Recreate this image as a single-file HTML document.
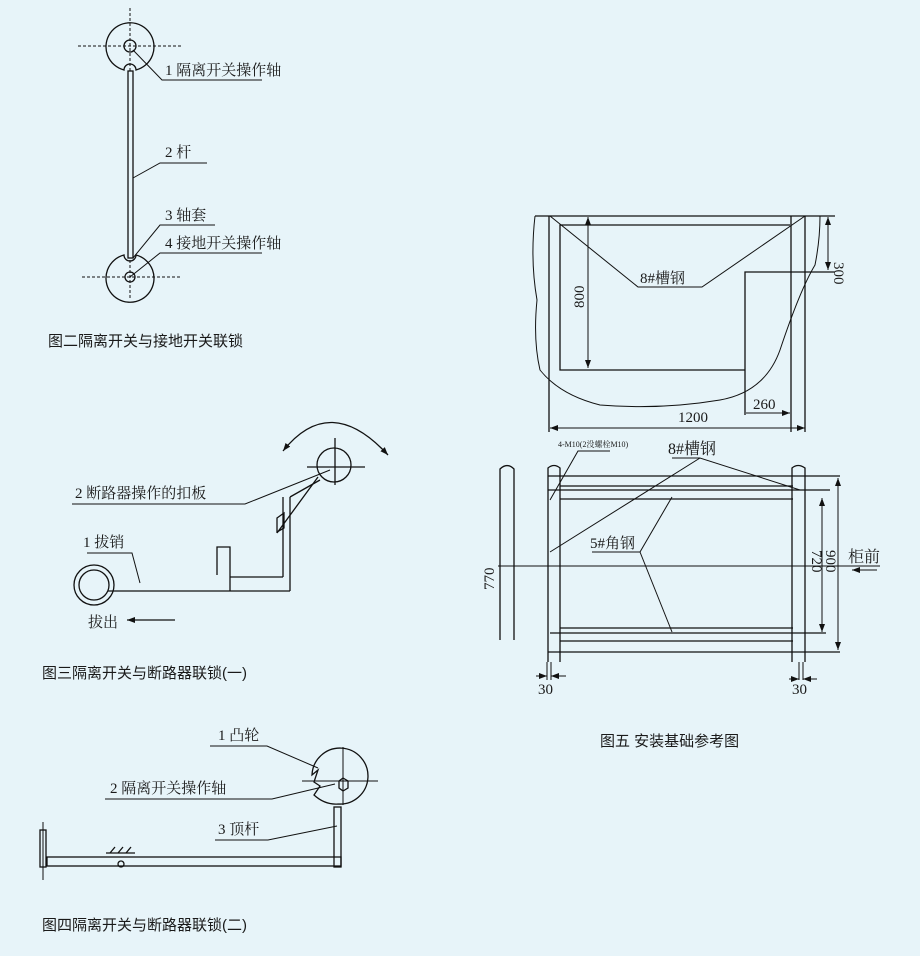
<!DOCTYPE html>
<html><head><meta charset="utf-8"><style>
html,body{margin:0;padding:0;background:#e7f4f9}
svg{display:block}
text{font-family:"Liberation Serif","Noto Serif CJK SC",serif;fill:#1a1a1a}
.c{font-family:"Liberation Sans","Noto Sans CJK SC",sans-serif}
</style></head><body>
<svg width="920" height="956" viewBox="0 0 920 956" xmlns="http://www.w3.org/2000/svg">
<defs><marker id="a" markerWidth="8" markerHeight="6" refX="8" refY="3" orient="auto-start-reverse" markerUnits="userSpaceOnUse"><path d="M0,0L8,3L0,6z" fill="#111"/></marker></defs>
<rect width="920" height="956" fill="#e7f4f9"/>
<g stroke="#111" fill="none" stroke-width="1.3">
<!-- Fig 2 -->
<line x1="78" y1="46" x2="182" y2="46" stroke-dasharray="3,2" stroke-width="1"/>
<line x1="130" y1="8" x2="130" y2="72" stroke-dasharray="3,2" stroke-width="1"/>
<path d="M124,70 A24,24 0 1 1 136,70 A6,6 0 0 0 124,70z"/>
<circle cx="130" cy="46" r="6"/>
<rect x="128" y="71" width="5" height="187"/>
<path d="M124,255 A24,24 0 1 0 136,255 A6,6 0 0 1 124,255z"/>
<circle cx="130" cy="277" r="5"/>
<line x1="82" y1="277" x2="182" y2="277" stroke-dasharray="3,2" stroke-width="1"/>
<line x1="130" y1="260" x2="130" y2="300" stroke-dasharray="3,2" stroke-width="1"/>
<polyline points="133,50 162,80 262,80" stroke-width="1"/>
<polyline points="133,178 160,163 207,163" stroke-width="1"/>
<polyline points="133,258 160,225 215,225" stroke-width="1"/>
<polyline points="130,277 160,253 262,253" stroke-width="1"/>
<!-- Fig 3 -->
<circle cx="334" cy="465" r="17"/>
<line x1="307" y1="467" x2="365" y2="467"/>
<line x1="335" y1="438" x2="335" y2="485"/>
<path d="M283,451 Q330,392 388,455" marker-start="url(#a)" marker-end="url(#a)"/>
<polyline points="72,504 245,504 330,470" stroke-width="1"/>
<line x1="318" y1="477" x2="277" y2="533"/>
<line x1="320" y1="480" x2="290" y2="497"/>
<polygon points="277,518 284,513 284,528 277,532"/>
<line x1="283" y1="497" x2="283" y2="577"/>
<line x1="290" y1="497" x2="290" y2="591"/>
<line x1="230" y1="577" x2="283" y2="577"/>
<polyline points="217,575 217,547 230,547 230,591"/>
<line x1="108" y1="591" x2="290" y2="591"/>
<circle cx="94" cy="585" r="20"/>
<circle cx="94" cy="585" r="15"/>
<polyline points="87,553 132,553 140,583" stroke-width="1"/>
<line x1="175" y1="620" x2="127" y2="620" marker-end="url(#a)"/>
<!-- Fig 4 -->
<path d="M338,804 A28,28 0 1 0 312,775 L318,770 L314,782 L320,786 L314,795 Q325,805 338,804z"/>
<polygon points="339,781 343,778 348,781 348,788 343,791 339,788"/>
<line x1="302" y1="781" x2="378" y2="781" stroke-width="1"/>
<line x1="343" y1="747" x2="343" y2="805" stroke-width="1"/>
<rect x="334" y="807" width="7" height="60"/>
<rect x="47" y="857" width="294" height="9"/>
<rect x="40" y="830" width="6" height="37"/>
<line x1="43" y1="822" x2="43" y2="880" stroke-width="1"/>
<line x1="106" y1="853" x2="135" y2="853"/>
<path d="M110,853 l5,-6 M118,853 l5,-6 M126,853 l5,-6"/>
<circle cx="121" cy="864" r="3"/>
<polyline points="210,746 267,746 318,768" stroke-width="1"/>
<polyline points="105,799 272,799 335,784" stroke-width="1"/>
<polyline points="215,840 268,840 337,826" stroke-width="1"/>
<!-- Fig 5 top -->
<line x1="535" y1="216" x2="835" y2="216"/>
<line x1="549" y1="216" x2="549" y2="432"/>
<line x1="791" y1="216" x2="791" y2="432"/>
<line x1="805" y1="216" x2="805" y2="432"/>
<polyline points="790,225 560,225 560,370 745,370"/>
<polyline points="745,415 745,272 835,272"/>
<polyline points="550,216 638,287 702,287 805,216" stroke-width="1"/>
<line x1="588" y1="217" x2="588" y2="368" marker-start="url(#a)" marker-end="url(#a)" stroke-width="1"/>
<line x1="828" y1="217" x2="828" y2="270" marker-start="url(#a)" marker-end="url(#a)" stroke-width="1"/>
<path d="M535,216 Q530,260 537,300 Q533,340 540,370 Q560,395 600,405 Q660,410 720,400 Q765,392 780,350 Q800,290 815,265 Q820,240 820,216" stroke-width="1"/>
<line x1="550" y1="428" x2="805" y2="428" marker-start="url(#a)" marker-end="url(#a)" stroke-width="1"/>
<line x1="746" y1="413" x2="790" y2="413" marker-end="url(#a)" stroke-width="1"/>
<!-- Fig 5 bottom -->
<path d="M500,640 L500,469 Q507,462 514,469 L514,640"/>
<path d="M548,662 L548,468 Q554,463 560,468 L560,662"/>
<path d="M792,662 L792,468 Q798,463 805,468 L805,662"/>
<line x1="548" y1="476" x2="840" y2="476"/>
<line x1="548" y1="490" x2="830" y2="490"/>
<line x1="560" y1="486" x2="793" y2="486"/>
<line x1="560" y1="499" x2="793" y2="499"/>
<line x1="560" y1="628" x2="793" y2="628"/>
<line x1="550" y1="633" x2="826" y2="633"/>
<line x1="560" y1="641" x2="793" y2="641"/>
<line x1="548" y1="652" x2="840" y2="652"/>
<line x1="498" y1="566" x2="880" y2="566" stroke-width="1"/>
<line x1="838" y1="478" x2="838" y2="650" marker-start="url(#a)" marker-end="url(#a)" stroke-width="1"/>
<line x1="822" y1="498" x2="822" y2="632" marker-start="url(#a)" marker-end="url(#a)" stroke-width="1"/>
<line x1="877" y1="570" x2="852" y2="570" marker-end="url(#a)" stroke-width="1"/>
<polyline points="550,552 700,458 800,490" stroke-width="1"/>
<line x1="672" y1="458" x2="700" y2="458" stroke-width="1"/>
<polyline points="672,497 640,552 592,552" stroke-width="1"/>
<line x1="640" y1="552" x2="672" y2="632" stroke-width="1"/>
<polyline points="550,500 578,451 610,451" stroke-width="1"/>
<line x1="547" y1="662" x2="547" y2="680" stroke-width="1"/>
<line x1="551" y1="662" x2="551" y2="680" stroke-width="1"/>
<line x1="536" y1="676" x2="547" y2="676" marker-end="url(#a)" stroke-width="1"/>
<line x1="566" y1="676" x2="551" y2="676" marker-end="url(#a)" stroke-width="1"/>
<line x1="799" y1="662" x2="799" y2="680" stroke-width="1"/>
<line x1="803" y1="662" x2="803" y2="680" stroke-width="1"/>
<line x1="789" y1="679" x2="799" y2="679" marker-end="url(#a)" stroke-width="1"/>
<line x1="817" y1="679" x2="803" y2="679" marker-end="url(#a)" stroke-width="1"/>
</g>
<g font-size="15">
<text x="165" y="75">1 隔离开关操作轴</text>
<text x="165" y="157">2 杆</text>
<text x="165" y="220">3 轴套</text>
<text x="165" y="248">4 接地开关操作轴</text>
<text class="c" x="48" y="346" font-size="15">图二隔离开关与接地开关联锁</text>
<text x="75" y="498">2 断路器操作的扣板</text>
<text x="83" y="547">1 拔销</text>
<text x="88" y="627">拔出</text>
<text class="c" x="42" y="678" font-size="15">图三隔离开关与断路器联锁(一)</text>
<text x="218" y="740">1 凸轮</text>
<text x="110" y="793">2 隔离开关操作轴</text>
<text x="218" y="834">3 顶杆</text>
<text class="c" x="42" y="930" font-size="15">图四隔离开关与断路器联锁(二)</text>
<text x="640" y="283">8#槽钢</text>
<text x="678" y="422">1200</text>
<text x="753" y="409">260</text>
<text transform="translate(584,308) rotate(-90)">800</text>
<text transform="translate(834,262) rotate(90)">300</text>
<text x="668" y="454" font-size="16">8#槽钢</text>
<text x="590" y="548" font-size="15">5#角钢</text>
<text x="558" y="447" font-size="8">4-M10(2没螺栓M10)</text>
<text transform="translate(494,590) rotate(-90)">770</text>
<text transform="translate(812,550) rotate(90)">720</text>
<text transform="translate(826,550) rotate(90)">900</text>
<text x="848" y="562" font-size="16">柜前</text>
<text x="538" y="694">30</text>
<text x="792" y="694">30</text>
<text class="c" x="600" y="746" font-size="15">图五 安装基础参考图</text>
</g>
</svg>
</body></html>
